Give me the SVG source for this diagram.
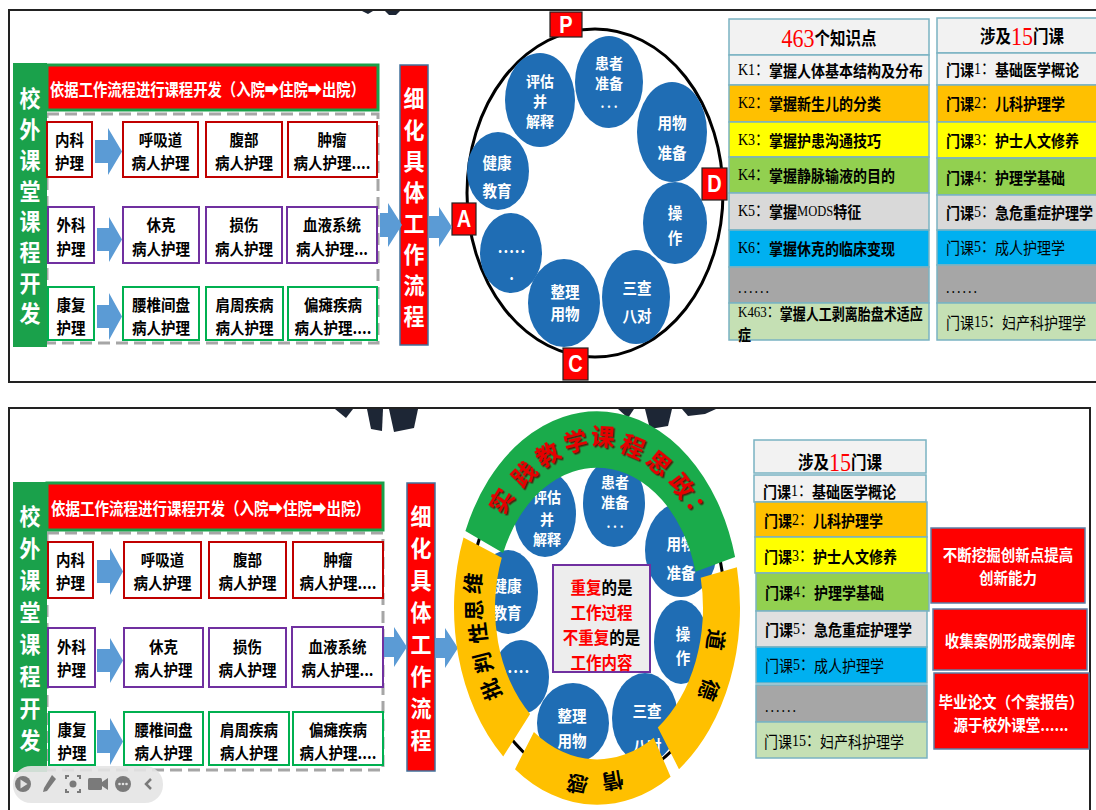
<svg xmlns="http://www.w3.org/2000/svg" width="1096" height="810" viewBox="0 0 1096 810">
<defs>
<style>
.cn{font-family:"Noto Sans CJK SC","Liberation Sans",sans-serif;font-weight:700}
.nw{font-weight:400}
.sr{font-family:"Liberation Serif","Noto Sans CJK SC",serif;font-weight:400}
.c{text-anchor:middle;dominant-baseline:central}
.l{dominant-baseline:central}
.w{fill:#fff}
.k{fill:#000}
.red{fill:#f00}
.box{fill:#fff;stroke-width:2}
.rr{stroke:#c00000}
.pp{stroke:#7030a0}
.gg{stroke:#00b050}
.arr{fill:#5b9bd5}
.bc{fill:#1f6db4}
.lab{fill:#f00;stroke:#222;stroke-width:1.2}
.labt{font-family:"Liberation Sans",sans-serif;font-weight:700;fill:#fff;text-anchor:middle;dominant-baseline:central}
.row{stroke:#7ab3c2;stroke-width:1.5}
.frame{fill:none;stroke:#222;stroke-width:2}
.gear{fill:#1d2635}
.dash{fill:none;stroke:#a6a6a6;stroke-width:3;stroke-dasharray:12 6}
.gbar{fill:#1aa14b}
.rbar{fill:#f00;stroke:#41719c;stroke-width:1.5}
.rbox{fill:#f00;stroke:#5b7ea5;stroke-width:1.5}
.ico{fill:#7a7a7a}
.rt{font-size:24px;fill:#e60000}
.yt{font-size:21px;fill:#000}
.ct{font-size:14.5px}
.ct3{font-size:14px}
.vt{font-size:21px}
</style>
<filter id="shadow" x="-20%" y="-20%" width="140%" height="140%"><feDropShadow dx="1.5" dy="1.5" stdDeviation="0.6" flood-color="#5a0000" flood-opacity="0.8"/></filter>
</defs>

<rect x="0" y="0" width="1096" height="810" fill="#fff"/>

<!-- background gear fragments -->
<g id="gear-fragments">
<polygon class="gear" points="362,11 373,11 368,14"/>
<polygon class="gear" points="385,11 400,11 396,15 389,15"/>
<polygon class="gear" points="335,409 353,409 346,418"/>
<polygon class="gear" points="367,409 383,409 382,431 371,429"/>
<polygon class="gear" points="389,409 418,409 414,428 394,432"/>
<polygon class="gear" points="618,409 634,409 628,418"/>
<polygon class="gear" points="645,409 672,409 668,426 650,429"/>
<polygon class="gear" points="682,409 716,409 705,414 688,416"/>
</g>

<!-- frames -->
<g id="frames">
<polyline class="frame" points="1096,10 9,10 9,382 1096,382"/>
<polyline class="frame" points="9,810 9,408 1090,408 1090,810"/>
</g>

<!-- ============ TOP PANEL ============ -->
<g id="top-left">
<rect class="dash" x="47" y="114" width="331" height="229"/>
<g id="t-side"><rect class="gbar" x="13" y="63" width="34" height="284"/>
<text class="cn c w vt" transform="translate(30 97) scale(1 1.1)"><tspan x="0" y="0">校</tspan><tspan x="0" y="27.9">外</tspan><tspan x="0" y="55.8">课</tspan><tspan x="0" y="83.7">堂</tspan><tspan x="0" y="111.6">课</tspan><tspan x="0" y="139.5">程</tspan><tspan x="0" y="167.4">开</tspan><tspan x="0" y="195.3">发</tspan></text></g>
<g id="t-header"><rect x="47" y="65" width="331" height="45" fill="#f00" stroke="#1aa14b" stroke-width="3"/>
<text class="cn l w" font-size="15" transform="translate(50 89) scale(1 1.15)" textLength="315" lengthAdjust="spacingAndGlyphs">依据工作流程进行课程开发（入院➡住院➡出院）</text></g>

<g id="t-neike"><rect class="box rr" x="47" y="122" width="45" height="55"/><text class="cn c k" font-size="14.5" transform="translate(69.5 150.5) scale(1 1.08)"><tspan x="0" y="-10.65">内科</tspan><tspan x="0" y="10.65">护理</tspan></text></g>
<g id="t-huxi"><rect class="box rr" x="123" y="122" width="75" height="55"/><text class="cn c k" font-size="14.5" transform="translate(160.5 150.5) scale(1 1.08)"><tspan x="0" y="-10.65">呼吸道</tspan><tspan x="0" y="10.65">病人护理</tspan></text></g>
<g id="t-fubu"><rect class="box rr" x="206" y="122" width="76" height="55"/><text class="cn c k" font-size="14.5" transform="translate(244 150.5) scale(1 1.08)"><tspan x="0" y="-10.65">腹部</tspan><tspan x="0" y="10.65">病人护理</tspan></text></g>
<g id="t-zhongliu"><rect class="box rr" x="288" y="122" width="89" height="55"/><text class="cn c k" font-size="14.5" transform="translate(332 150.5) scale(1 1.08)"><tspan x="0" y="-10.65">肿瘤</tspan><tspan x="0" y="10.65">病人护理....</tspan></text></g>

<g id="t-waike"><rect class="box pp" x="48" y="207" width="46" height="56"/><text class="cn c k" font-size="14.5" transform="translate(71 236) scale(1 1.08)"><tspan x="0" y="-11.1">外科</tspan><tspan x="0" y="11.1">护理</tspan></text></g>
<g id="t-xiuke"><rect class="box pp" x="123" y="207" width="76" height="56"/><text class="cn c k" font-size="14.5" transform="translate(161 236) scale(1 1.08)"><tspan x="0" y="-11.1">休克</tspan><tspan x="0" y="11.1">病人护理</tspan></text></g>
<g id="t-sunshang"><rect class="box pp" x="206" y="207" width="76" height="56"/><text class="cn c k" font-size="14.5" transform="translate(244 236) scale(1 1.08)"><tspan x="0" y="-11.1">损伤</tspan><tspan x="0" y="11.1">病人护理</tspan></text></g>
<g id="t-xueye"><rect class="box pp" x="287" y="207" width="90" height="56"/><text class="cn c k" font-size="14.5" transform="translate(332 236) scale(1 1.08)"><tspan x="0" y="-11.1">血液系统</tspan><tspan x="0" y="11.1">病人护理...</tspan></text></g>

<g id="t-kangfu"><rect class="box gg" x="48" y="287" width="46" height="53"/><text class="cn c k" font-size="14.5" transform="translate(71 315.5) scale(1 1.08)"><tspan x="0" y="-10.65">康复</tspan><tspan x="0" y="10.65">护理</tspan></text></g>
<g id="t-yaozhui"><rect class="box gg" x="123" y="287" width="76" height="53"/><text class="cn c k" font-size="14.5" transform="translate(161 315.5) scale(1 1.08)"><tspan x="0" y="-10.65">腰椎间盘</tspan><tspan x="0" y="10.65">病人护理</tspan></text></g>
<g id="t-jianzhou"><rect class="box gg" x="206" y="287" width="77" height="53"/><text class="cn c k" font-size="14.5" transform="translate(244.5 315.5) scale(1 1.08)"><tspan x="0" y="-10.65">肩周疾病</tspan><tspan x="0" y="10.65">病人护理</tspan></text></g>
<g id="t-piantan"><rect class="box gg" x="288" y="287" width="89" height="53"/><text class="cn c k" font-size="14.5" transform="translate(333 315.5) scale(1 1.08)"><tspan x="0" y="-10.65">偏瘫疾病</tspan><tspan x="0" y="10.65">病人护理....</tspan></text></g>

<g id="t-xihua"><rect class="rbar" x="400" y="65" width="28" height="280"/>
<text class="cn c w vt" transform="translate(414 97) scale(1 1.1)"><tspan x="0" y="0">细</tspan><tspan x="0" y="28.3">化</tspan><tspan x="0" y="56.6">具</tspan><tspan x="0" y="84.9">体</tspan><tspan x="0" y="113.2">工</tspan><tspan x="0" y="141.5">作</tspan><tspan x="0" y="169.8">流</tspan><tspan x="0" y="198.1">程</tspan></text></g>
</g>

<g id="top-cycle">
<ellipse cx="595" cy="193" rx="128" ry="164" fill="none" stroke="#000" stroke-width="3"/>
<g id="t-pinggu"><ellipse class="bc" cx="540" cy="100" rx="35" ry="47"/><text class="cn c w ct3" transform="translate(540 80) scale(1 1.05)"><tspan x="0" y="0">评估</tspan><tspan x="0" y="19.05">并</tspan><tspan x="0" y="38.1">解释</tspan></text></g>
<g id="t-huanzhe"><ellipse class="bc" cx="609" cy="82" rx="34" ry="46"/><text class="cn c w ct3" transform="translate(609 62) scale(1 1.05)"><tspan x="0" y="0">患者</tspan><tspan x="0" y="19.05">准备</tspan><tspan x="0" y="39" font-size="12">. . .</tspan></text></g>
<g id="t-yongwu"><ellipse class="bc" cx="672" cy="132" rx="35" ry="50"/><text class="cn c w ct" transform="translate(672 122) scale(1 1.1)"><tspan x="0" y="0">用物</tspan><tspan x="0" y="27.3">准备</tspan></text></g>
<g id="t-caozuo"><ellipse class="bc" cx="675" cy="223" rx="32" ry="41"/><text class="cn c w ct" transform="translate(675 212) scale(1 1.1)"><tspan x="0" y="0">操</tspan><tspan x="0" y="22.7">作</tspan></text></g>
<g id="t-sancha"><ellipse class="bc" cx="636" cy="297" rx="34" ry="47"/><text class="cn c w ct" transform="translate(637 287) scale(1 1.1)"><tspan x="0" y="0">三查</tspan><tspan x="0" y="25.5">八对</tspan></text></g>
<g id="t-zhengli"><ellipse class="bc" cx="564" cy="303" rx="36" ry="44"/><text class="cn c w ct" transform="translate(565 291) scale(1 1.1)"><tspan x="0" y="0">整理</tspan><tspan x="0" y="20">用物</tspan></text></g>
<g id="t-dots"><ellipse class="bc" cx="511" cy="253" rx="31" ry="40"/><text class="cn c w ct" letter-spacing="1" transform="translate(512 246) scale(1 1.1)"><tspan x="0" y="0">.....</tspan><tspan x="0" y="24.5">.</tspan></text></g>
<g id="t-jiankang"><ellipse class="bc" cx="498" cy="171" rx="31" ry="39"/><text class="cn c w ct" transform="translate(497 162) scale(1 1.1)"><tspan x="0" y="0">健康</tspan><tspan x="0" y="25.5">教育</tspan></text></g>
<g id="lab-P"><rect class="lab" x="550" y="12" width="32" height="25"/><text class="labt" font-size="20" transform="translate(566 24.5) scale(1 1.15)">P</text></g>
<g id="lab-D"><rect class="lab" x="702" y="168" width="25" height="32"/><text class="labt" font-size="20" transform="translate(714.5 184) scale(1 1.15)">D</text></g>
<g id="lab-A"><rect class="lab" x="452" y="203" width="24" height="32"/><text class="labt" font-size="20" transform="translate(464 219) scale(1 1.15)">A</text></g>
<g id="lab-C"><rect class="lab" x="563" y="348" width="25" height="32"/><text class="labt" font-size="20" transform="translate(575.5 364) scale(1 1.15)">C</text></g>
</g>

<g id="top-knowledge">
<rect class="row" x="729" y="19" width="200" height="36" fill="#f2f2f2"/>
<rect class="row" x="729" y="55" width="200" height="30" fill="#f2f2f2"/>
<rect class="row" x="729" y="85" width="200" height="37" fill="#ffc000"/>
<rect class="row" x="729" y="122" width="200" height="35" fill="#ffff00"/>
<rect class="row" x="729" y="157" width="200" height="36" fill="#92d050"/>
<rect class="row" x="729" y="193" width="200" height="37" fill="#d9d9d9"/>
<rect class="row" x="729" y="230" width="200" height="37" fill="#00b0f0"/>
<rect class="row" x="729" y="267" width="200" height="36" fill="#a6a6a6"/>
<rect class="row" x="729" y="303" width="200" height="37" fill="#c5e0b4"/>
<text class="cn c k" font-size="15.5" transform="translate(829 38) scale(1 1.15)"><tspan class="sr red" font-size="22">463</tspan>个知识点</text>
<text class="cn l k" font-size="14" transform="translate(738 70) scale(1 1.15)"><tspan class="sr">K1：</tspan>掌握人体基本结构及分布</text>
<text class="cn l k" font-size="14" transform="translate(738 103) scale(1 1.15)"><tspan class="sr">K2：</tspan>掌握新生儿的分类</text>
<text class="cn l k" font-size="14" transform="translate(738 140) scale(1 1.15)"><tspan class="sr">K3：</tspan>掌握护患沟通技巧</text>
<text class="cn l k" font-size="14" transform="translate(738 175) scale(1 1.15)"><tspan class="sr">K4：</tspan>掌握静脉输液的目的</text>
<text class="cn l k" font-size="14" transform="translate(738 211) scale(1 1.15)"><tspan class="sr">K5：</tspan>掌握<tspan class="sr" font-size="12.5">MODS</tspan>特征</text>
<text class="cn l k" font-size="14" transform="translate(738 248) scale(1 1.15)"><tspan class="sr">K6：</tspan>掌握休克的临床变现</text>
<text class="sr l k" font-size="14" letter-spacing="2" transform="translate(738 288) scale(1 1.15)">......</text>
<text class="cn l k" font-size="13" transform="translate(738 312) scale(1 1.2)"><tspan x="0" y="0"><tspan class="sr">K463：</tspan>掌握人工剥离胎盘术适应</tspan><tspan x="0" y="17.5">症</tspan></text>
</g>

<g id="top-courses">
<rect class="row" x="937" y="18" width="160" height="35" fill="#f2f2f2"/>
<rect class="row" x="937" y="53" width="160" height="32" fill="#f2f2f2"/>
<rect class="row" x="937" y="85" width="160" height="37" fill="#ffc000"/>
<rect class="row" x="937" y="122" width="160" height="36" fill="#ffff00"/>
<rect class="row" x="937" y="158" width="160" height="37" fill="#92d050"/>
<rect class="row" x="937" y="195" width="160" height="35" fill="#d9d9d9"/>
<rect class="row" x="937" y="230" width="160" height="35" fill="#00b0f0"/>
<rect class="row" x="937" y="265" width="160" height="38" fill="#a6a6a6"/>
<rect class="row" x="937" y="303" width="160" height="37" fill="#c5e0b4"/>
<text class="cn c k" font-size="15.5" transform="translate(1022 36) scale(1 1.15)">涉及<tspan class="sr red" font-size="22">15</tspan>门课</text>
<text class="cn l k" font-size="14" transform="translate(946 69) scale(1 1.15)">门课<tspan class="sr">1：</tspan>基础医学概论</text>
<text class="cn l k" font-size="14" transform="translate(946 103) scale(1 1.15)">门课<tspan class="sr">2：</tspan>儿科护理学</text>
<text class="cn l k" font-size="14" transform="translate(946 140) scale(1 1.15)">门课<tspan class="sr">3：</tspan>护士人文修养</text>
<text class="cn l k" font-size="14" transform="translate(946 177) scale(1 1.15)">门课<tspan class="sr">4：</tspan>护理学基础</text>
<text class="cn l k" font-size="14" transform="translate(946 212) scale(1 1.15)">门课<tspan class="sr">5：</tspan>急危重症护理学</text>
<text class="cn nw l k" font-size="14" transform="translate(946 247) scale(1 1.15)">门课<tspan class="sr">5：</tspan>成人护理学</text>
<text class="sr l k" font-size="14" letter-spacing="2" transform="translate(946 288) scale(1 1.15)">......</text>
<text class="cn nw l k" font-size="14" transform="translate(946 322) scale(1 1.15)">门课<tspan class="sr">15：</tspan>妇产科护理学</text>
</g>

<!-- ============ BOTTOM PANEL ============ -->
<g id="bottom-left">
<rect class="dash" x="47" y="533" width="336" height="237"/>
<g id="b-side"><rect class="gbar" x="13" y="482" width="34" height="290"/>
<text class="cn c w vt" transform="translate(30 515) scale(1 1.1)"><tspan x="0" y="0">校</tspan><tspan x="0" y="29">外</tspan><tspan x="0" y="58">课</tspan><tspan x="0" y="87">堂</tspan><tspan x="0" y="116">课</tspan><tspan x="0" y="145">程</tspan><tspan x="0" y="174">开</tspan><tspan x="0" y="203">发</tspan></text></g>
<g id="b-header"><rect x="47" y="483" width="336" height="47" fill="#f00" stroke="#1aa14b" stroke-width="3"/>
<text class="cn l w" font-size="15" transform="translate(51 508) scale(1 1.15)" textLength="319" lengthAdjust="spacingAndGlyphs">依据工作流程进行课程开发（入院➡住院➡出院）</text></g>

<g id="b-neike"><rect class="box rr" x="48" y="542" width="45" height="56"/><text class="cn c k" font-size="14.5" transform="translate(70.5 570.5) scale(1 1.08)"><tspan x="0" y="-10.65">内科</tspan><tspan x="0" y="10.65">护理</tspan></text></g>
<g id="b-huxi"><rect class="box rr" x="124" y="542" width="77" height="56"/><text class="cn c k" font-size="14.5" transform="translate(162.5 570.5) scale(1 1.08)"><tspan x="0" y="-10.65">呼吸道</tspan><tspan x="0" y="10.65">病人护理</tspan></text></g>
<g id="b-fubu"><rect class="box rr" x="209" y="542" width="77" height="56"/><text class="cn c k" font-size="14.5" transform="translate(247.5 570.5) scale(1 1.08)"><tspan x="0" y="-10.65">腹部</tspan><tspan x="0" y="10.65">病人护理</tspan></text></g>
<g id="b-zhongliu"><rect class="box rr" x="293" y="542" width="90" height="56"/><text class="cn c k" font-size="14.5" transform="translate(338 570.5) scale(1 1.08)"><tspan x="0" y="-10.65">肿瘤</tspan><tspan x="0" y="10.65">病人护理....</tspan></text></g>

<g id="b-waike"><rect class="box pp" x="48" y="628" width="47" height="59"/><text class="cn c k" font-size="14.5" transform="translate(71.5 657.5) scale(1 1.08)"><tspan x="0" y="-10.65">外科</tspan><tspan x="0" y="10.65">护理</tspan></text></g>
<g id="b-xiuke"><rect class="box pp" x="124" y="628" width="79" height="59"/><text class="cn c k" font-size="14.5" transform="translate(163.5 657.5) scale(1 1.08)"><tspan x="0" y="-10.65">休克</tspan><tspan x="0" y="10.65">病人护理</tspan></text></g>
<g id="b-sunshang"><rect class="box pp" x="209" y="628" width="77" height="59"/><text class="cn c k" font-size="14.5" transform="translate(247.5 657.5) scale(1 1.08)"><tspan x="0" y="-10.65">损伤</tspan><tspan x="0" y="10.65">病人护理</tspan></text></g>
<g id="b-xueye"><rect class="box pp" x="292" y="627" width="91" height="60"/><text class="cn c k" font-size="14.5" transform="translate(337.5 657.5) scale(1 1.08)"><tspan x="0" y="-10.65">血液系统</tspan><tspan x="0" y="10.65">病人护理...</tspan></text></g>

<g id="b-kangfu"><rect class="box gg" x="49" y="712" width="46" height="53"/><text class="cn c k" font-size="14.5" transform="translate(72 740.5) scale(1 1.08)"><tspan x="0" y="-10.65">康复</tspan><tspan x="0" y="10.65">护理</tspan></text></g>
<g id="b-yaozhui"><rect class="box gg" x="124" y="712" width="79" height="53"/><text class="cn c k" font-size="14.5" transform="translate(163.5 740.5) scale(1 1.08)"><tspan x="0" y="-10.65">腰椎间盘</tspan><tspan x="0" y="10.65">病人护理</tspan></text></g>
<g id="b-jianzhou"><rect class="box gg" x="209" y="712" width="80" height="53"/><text class="cn c k" font-size="14.5" transform="translate(249 740.5) scale(1 1.08)"><tspan x="0" y="-10.65">肩周疾病</tspan><tspan x="0" y="10.65">病人护理</tspan></text></g>
<g id="b-piantan"><rect class="box gg" x="293" y="712" width="90" height="53"/><text class="cn c k" font-size="14.5" transform="translate(338 740.5) scale(1 1.08)"><tspan x="0" y="-10.65">偏瘫疾病</tspan><tspan x="0" y="10.65">病人护理....</tspan></text></g>

<g id="b-xihua"><rect class="rbar" x="407" y="483" width="28" height="288"/>
<text class="cn c w vt" transform="translate(421 515) scale(1 1.1)"><tspan x="0" y="0">细</tspan><tspan x="0" y="29">化</tspan><tspan x="0" y="58">具</tspan><tspan x="0" y="87">体</tspan><tspan x="0" y="116">工</tspan><tspan x="0" y="145">作</tspan><tspan x="0" y="174">流</tspan><tspan x="0" y="203">程</tspan></text></g>
</g>

<!-- connectors -->
<g id="connectors">
<polygon class="arr" points="95,140 108,140 108,128 122,151.5 108,175 108,163 95,163"/>
<polygon class="arr" points="97,228 109,228 109,217 122,239.5 109,262 109,251 97,251"/>
<polygon class="arr" points="97,305 109,305 109,293 122,316.5 109,340 109,328 97,328"/>
<polygon class="arr" points="380,213 388,213 388,203 402,225 388,247 388,237 380,237"/>
<polygon class="arr" points="429,216 439,216 439,207 452,227 439,247 439,238 429,238"/>
<polygon class="arr" points="97,560 110,560 110,548 123,571.5 110,595 110,583 97,583"/>
<polygon class="arr" points="97,649 110,649 110,638 123,660.5 110,683 110,672 97,672"/>
<polygon class="arr" points="97,730 110,730 110,718 123,741.5 110,765 110,753 97,753"/>
<polygon class="arr" points="384,637 394,637 394,627 407,647 394,667 394,657 384,657"/>
<polygon class="arr" points="435,638 445,638 445,628 458,648 445,668 445,658 435,658"/>
</g>

<g id="bottom-cycle">
<ellipse cx="597" cy="608" rx="128" ry="176" fill="none" stroke="#000" stroke-width="3"/>
<g id="b-pinggu"><ellipse class="bc" cx="545" cy="514" rx="31" ry="43"/><text class="cn c w ct3" transform="translate(547 496) scale(1 1.05)"><tspan x="0" y="0">评估</tspan><tspan x="0" y="20.5">并</tspan><tspan x="0" y="40">解释</tspan></text></g>
<g id="b-huanzhe"><ellipse class="bc" cx="614" cy="503" rx="31" ry="44"/><text class="cn c w ct3" transform="translate(615 481) scale(1 1.05)"><tspan x="0" y="0">患者</tspan><tspan x="0" y="19.05">准备</tspan><tspan x="0" y="40" font-size="12">. . .</tspan></text></g>
<g id="b-yongwu"><ellipse class="bc" cx="681" cy="550" rx="36" ry="47"/><text class="cn c w ct" transform="translate(681 543) scale(1 1.1)"><tspan x="0" y="0">用物</tspan><tspan x="0" y="26.4">准备</tspan></text></g>
<g id="b-jiankang"><ellipse class="bc" cx="508" cy="592" rx="30" ry="42"/><text class="cn c w ct" transform="translate(507 585) scale(1 1.1)"><tspan x="0" y="0">健康</tspan><tspan x="0" y="24.5">教育</tspan></text></g>
<g id="b-caozuo"><ellipse class="bc" cx="681" cy="642" rx="27" ry="42"/><text class="cn c w ct" transform="translate(683 633) scale(1 1.1)"><tspan x="0" y="0">操</tspan><tspan x="0" y="21.8">作</tspan></text></g>
<g id="b-sancha"><ellipse class="bc" cx="645" cy="718" rx="33" ry="45"/><text class="cn c w ct" transform="translate(647 710) scale(1 1.1)"><tspan x="0" y="0">三查</tspan><tspan x="0" y="31.8">八对</tspan></text></g>
<g id="b-zhengli"><ellipse class="bc" cx="573" cy="723" rx="36" ry="40"/><text class="cn c w ct" transform="translate(572 715) scale(1 1.1)"><tspan x="0" y="0">整理</tspan><tspan x="0" y="22.7">用物</tspan></text></g>
<g id="b-dots"><ellipse class="bc" cx="521" cy="677" rx="28" ry="37"/><text class="cn c w ct" letter-spacing="1" transform="translate(516 666) scale(1 1.1)"><tspan x="0" y="0">.....</tspan><tspan x="0" y="24.5">.</tspan></text></g>

<g id="ring" transform="translate(597 608) scale(1 1.376)">
<path id="seg-top" fill="#1aab4b" d="M-131.6,-55.9 A143,143 0 0 1 138.1,-37.0 L98.5,-26.4 A102,102 0 0 0 -93.9,-39.9 Z"/>
<path id="seg-right" fill="#ffc000" d="M139.9,-29.7 A143,143 0 0 1 82.0,117.1 L60.8,86.8 A106,106 0 0 0 103.7,-22.0 Z"/>
<path id="seg-bottom" fill="#ffc000" d="M73.6,122.6 A143,143 0 0 1 -82.0,117.1 L-63.1,90.1 A110,110 0 0 0 56.7,94.3 Z"/>
<path id="seg-left" fill="#ffc000" d="M-93.8,107.9 A143,143 0 0 1 -133.5,-51.3 L-95.2,-36.6 A102,102 0 0 0 -66.9,77.0 Z"/>
</g>
<g id="ring-top-text" class="cn rt" filter="url(#shadow)">
<text class="c" transform="translate(500 500) rotate(-59.5)">实</text>
<text class="c" transform="translate(523 473) rotate(-46.1)">践</text>
<text class="c" transform="translate(547 453) rotate(-31.4)">教</text>
<text class="c" transform="translate(575 440) rotate(-14)">学</text>
<text class="c" transform="translate(603 435) rotate(3.8)">课</text>
<text class="c" transform="translate(633 445) rotate(22.7)">程</text>
<text class="c" transform="translate(660 462) rotate(39.2)">思</text>
<text class="c" transform="translate(683 485) rotate(52.9)">政</text>
<text class="c" transform="translate(700 508) rotate(62.9)">：</text>
</g>
<g id="ring-left-text" class="cn yt">
<text class="c" transform="translate(490 690) rotate(-112)">批</text>
<text class="c" transform="translate(482 663) rotate(-104.2)">判</text>
<text class="c" transform="translate(477 633) rotate(-96.3)">性</text>
<text class="c" transform="translate(473 610) rotate(-90.5)">思</text>
<text class="c" transform="translate(472 583) rotate(-84)">维</text>
</g>
<g id="ring-right-text" class="cn yt">
<text class="c" transform="translate(717 640) rotate(98)">道</text>
<text class="c" transform="translate(710 690) rotate(111)">德</text>
</g>
<g id="ring-bottom-text" class="cn yt">
<text class="c" transform="translate(613 782) rotate(170.1)">情</text>
<text class="c" transform="translate(577 785) rotate(192)">感</text>
</g>

<g id="b-center"><rect x="553" y="565" width="97" height="107" fill="#ededed" stroke="#7030a0" stroke-width="2"/>
<text class="cn c" font-size="15.5" transform="translate(601.5 587) scale(1 1.12)"><tspan x="0" y="0"><tspan class="red">重复</tspan><tspan class="k">的是</tspan></tspan><tspan x="0" y="22.3" class="red">工作过程</tspan><tspan x="0" y="44.6"><tspan class="red">不重复</tspan><tspan class="k">的是</tspan></tspan><tspan x="0" y="67" class="red">工作内容</tspan></text></g>
</g>

<g id="bottom-courses">
<rect class="row" x="754" y="440" width="172" height="33" fill="#f2f2f2"/>
<rect class="row" x="754" y="475" width="172" height="27" fill="#f2f2f2"/>
<rect class="row" x="755" y="502" width="172" height="35" fill="#ffc000"/>
<rect class="row" x="755" y="537" width="172" height="36" fill="#ffff00"/>
<rect class="row" x="756" y="573" width="173" height="38" fill="#92d050"/>
<rect class="row" x="756" y="611" width="171" height="36" fill="#e0e0e0"/>
<rect class="row" x="756" y="647" width="171" height="36" fill="#00b0f0"/>
<rect class="row" x="756" y="685" width="171" height="37" fill="#a6a6a6"/>
<rect class="row" x="756" y="722" width="171" height="36" fill="#c5e0b4"/>
<text class="cn c k" font-size="15.5" transform="translate(840 462) scale(1 1.15)">涉及<tspan class="sr red" font-size="22">15</tspan>门课</text>
<text class="cn l k" font-size="14" transform="translate(763 491) scale(1 1.15)">门课<tspan class="sr">1：</tspan>基础医学概论</text>
<text class="cn l k" font-size="14" transform="translate(764 520) scale(1 1.15)">门课<tspan class="sr">2：</tspan>儿科护理学</text>
<text class="cn l k" font-size="14" transform="translate(764 556) scale(1 1.15)">门课<tspan class="sr">3：</tspan>护士人文修养</text>
<text class="cn l k" font-size="14" transform="translate(765 592) scale(1 1.15)">门课<tspan class="sr">4：</tspan>护理学基础</text>
<text class="cn l k" font-size="14" transform="translate(765 629) scale(1 1.15)">门课<tspan class="sr">5：</tspan>急危重症护理学</text>
<text class="cn nw l k" font-size="14" transform="translate(765 665) scale(1 1.15)">门课<tspan class="sr">5：</tspan>成人护理学</text>
<text class="sr l k" font-size="14" letter-spacing="2" transform="translate(765 707) scale(1 1.15)">......</text>
<text class="cn nw l k" font-size="14" transform="translate(764 741) scale(1 1.15)">门课<tspan class="sr">15：</tspan>妇产科护理学</text>
</g>

<g id="b-innovate"><rect class="rbox" x="931" y="528" width="154" height="75"/><text class="cn c w" font-size="14.5" transform="translate(1008 554) scale(1 1.12)"><tspan x="0" y="0">不断挖掘创新点提高</tspan><tspan x="0" y="20.5">创新能力</tspan></text></g>
<g id="b-cases"><rect class="rbox" x="933" y="609" width="154" height="61"/><text class="cn c w" font-size="14.5" transform="translate(1010 640) scale(1 1.12)">收集案例形成案例库</text></g>
<g id="b-thesis"><rect class="rbox" x="934" y="673" width="155" height="76"/><text class="cn c w" font-size="14.5" transform="translate(1011 701) scale(1 1.12)"><tspan x="0" y="0">毕业论文（个案报告）</tspan><tspan x="0" y="20.5">源于校外课堂......</tspan></text></g>

<!-- viewer toolbar overlay -->
<g id="toolbar">
<rect x="13" y="766" width="150" height="37" rx="18" fill="#e4e4e4" fill-opacity="0.9"/>
<circle class="ico" cx="23" cy="784" r="8"/>
<polygon points="20.5,779.5 20.5,788.5 27.5,784" fill="#e4e4e4"/>
<polygon class="ico" points="52,775 56,779 47,791 43,792 44,788"/>
<path d="M66,779 v-3 h3 M77,776 h3 v3 M80,789 v3 h-3 M69,792 h-3 v-3" fill="none" stroke="#7a7a7a" stroke-width="2"/>
<circle class="ico" cx="73" cy="784" r="3.5"/>
<rect class="ico" x="88" y="778" width="14" height="12" rx="1.5"/>
<polygon class="ico" points="102,782 108,778 108,790 102,786"/>
<circle class="ico" cx="123" cy="784" r="8"/>
<circle cx="119.5" cy="784" r="1.3" fill="#e4e4e4"/><circle cx="123" cy="784" r="1.3" fill="#e4e4e4"/><circle cx="126.5" cy="784" r="1.3" fill="#e4e4e4"/>
<polyline points="151,779 146,784 151,789" fill="none" stroke="#7a7a7a" stroke-width="2.5"/>
</g>
</svg>
